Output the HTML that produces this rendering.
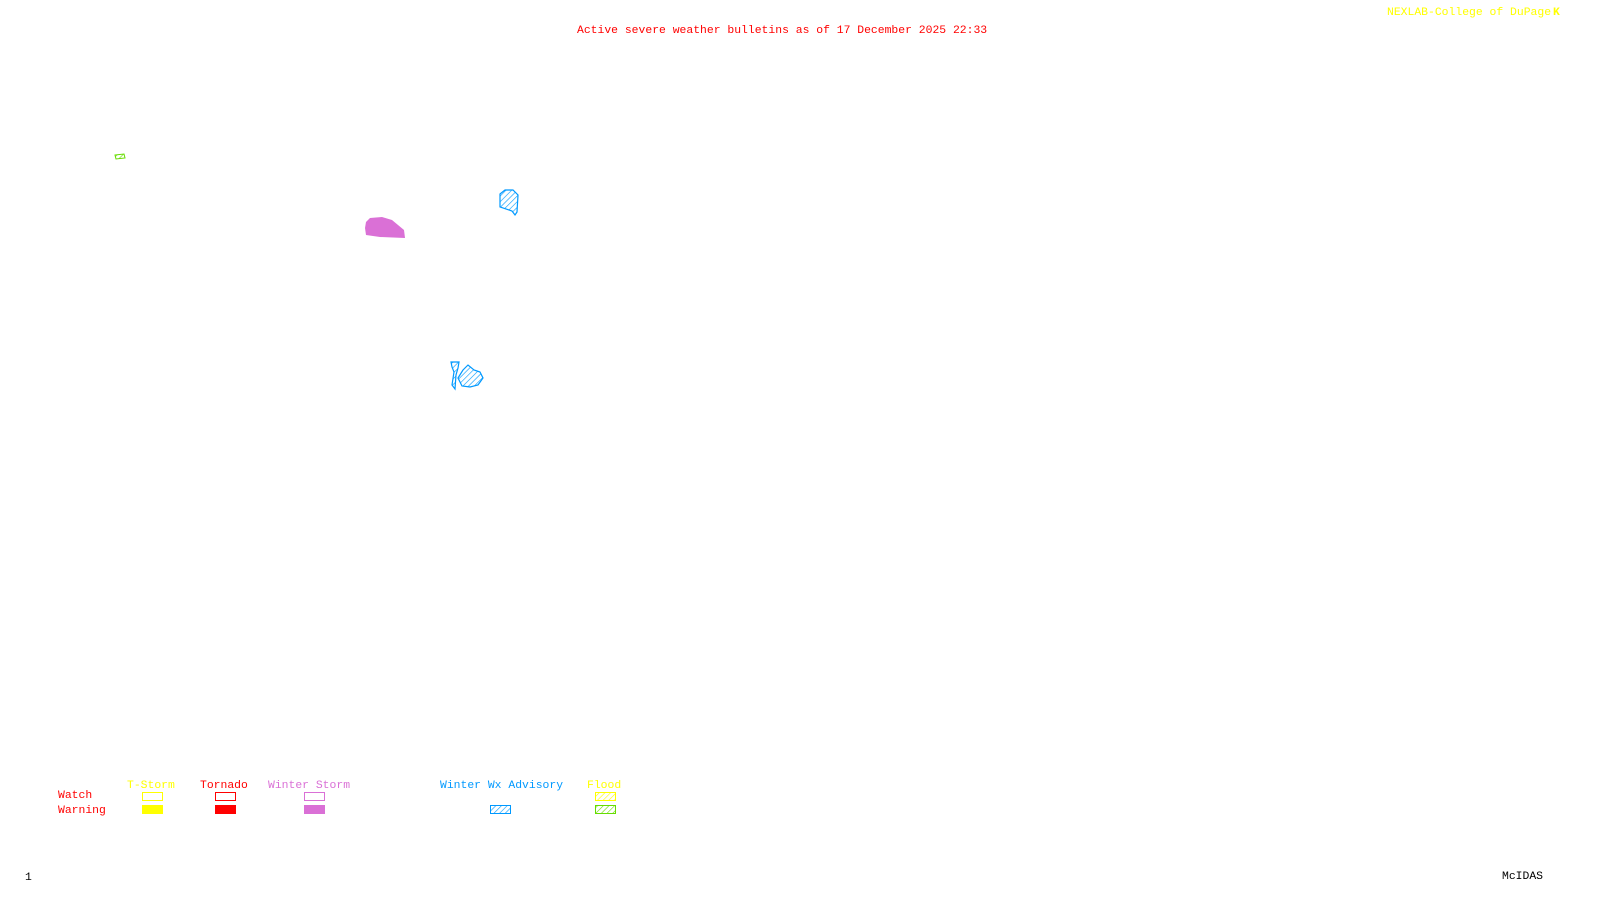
<!DOCTYPE html>
<html><head><meta charset="utf-8"><style>
html,body{margin:0;padding:0;background:#fff;width:1600px;height:900px;overflow:hidden}
svg text{font-family:"Liberation Mono","DejaVu Sans Mono",monospace;font-size:11.4px}
</style></head><body>
<svg width="1600" height="900" xmlns="http://www.w3.org/2000/svg">
<defs>
<pattern id="hb" width="4" height="4" patternUnits="userSpaceOnUse" patternTransform="rotate(45)"><line x1="0" y1="0" x2="0" y2="4" stroke="#0099ff" stroke-width="1.2"/></pattern>
<pattern id="hy" width="4" height="4" patternUnits="userSpaceOnUse" patternTransform="rotate(45)"><line x1="0" y1="0" x2="0" y2="4" stroke="#ffff00" stroke-width="1.2"/></pattern>
<pattern id="hg" width="4" height="4" patternUnits="userSpaceOnUse" patternTransform="rotate(45)"><line x1="0" y1="0" x2="0" y2="4" stroke="#66dd00" stroke-width="1.2"/></pattern>
</defs>
<text x="577" y="33" fill="#ff0000">Active severe weather bulletins as of 17 December 2025 22:33</text>
<text x="1387" y="15" fill="#ffff00">NEXLAB-College of DuPage</text>
<text x="1553" y="15" fill="#ffff00" font-weight="bold">K</text>
<!-- shapes -->
<polygon points="115,155 124,154 125,158 116,159" fill="url(#hg)" stroke="#66dd00" stroke-width="1"/>
<polygon points="366,222 370,218 382,217 392,220 398,225 404,230 405,238 380,237 366,235 365,228" fill="#da70d6"/>
<polygon points="500,194 505,190 513,190 518,195 517,212 515,215 512,211 500,207" fill="url(#hb)" stroke="#0099ff" stroke-width="1.2"/>
<g stroke="#0099ff" stroke-width="1.2" fill="url(#hb)">
<polygon points="451,362 459,362 458,368 456,375 455,389 452,385 454,372 452,367"/>
<polygon points="458,378 463,370 468,365 474,370 480,372 483,378 478,385 470,387 462,386"/>
</g>
<!-- legend -->
<text x="127" y="788" fill="#ffff00">T-Storm</text>
<text x="200" y="788" fill="#ff0000">Tornado</text>
<text x="268" y="788" fill="#da70d6">Winter Storm</text>
<text x="440" y="788" fill="#0099ff">Winter Wx Advisory</text>
<text x="587" y="788" fill="#ffff00">Flood</text>
<text x="58" y="798" fill="#ff0000">Watch</text>
<text x="58" y="813" fill="#ff0000">Warning</text>
<rect x="142.5" y="792.5" width="20" height="8" fill="none" stroke="#ffff00"/>
<rect x="215.5" y="792.5" width="20" height="8" fill="none" stroke="#ff0000"/>
<rect x="304.5" y="792.5" width="20" height="8" fill="none" stroke="#da70d6"/>
<rect x="595.5" y="792.5" width="20" height="8" fill="url(#hy)" stroke="#ffff00"/>
<rect x="142" y="805" width="21" height="9" fill="#ffff00"/>
<rect x="215" y="805" width="21" height="9" fill="#ff0000"/>
<rect x="304" y="805" width="21" height="9" fill="#da70d6"/>
<rect x="490.5" y="805.5" width="20" height="8" fill="url(#hb)" stroke="#0099ff"/>
<rect x="595.5" y="805.5" width="20" height="8" fill="url(#hg)" stroke="#66dd00"/>
<text x="25" y="880" fill="#000">1</text>
<text x="1502" y="879" fill="#000">McIDAS</text>
</svg>
</body></html>
